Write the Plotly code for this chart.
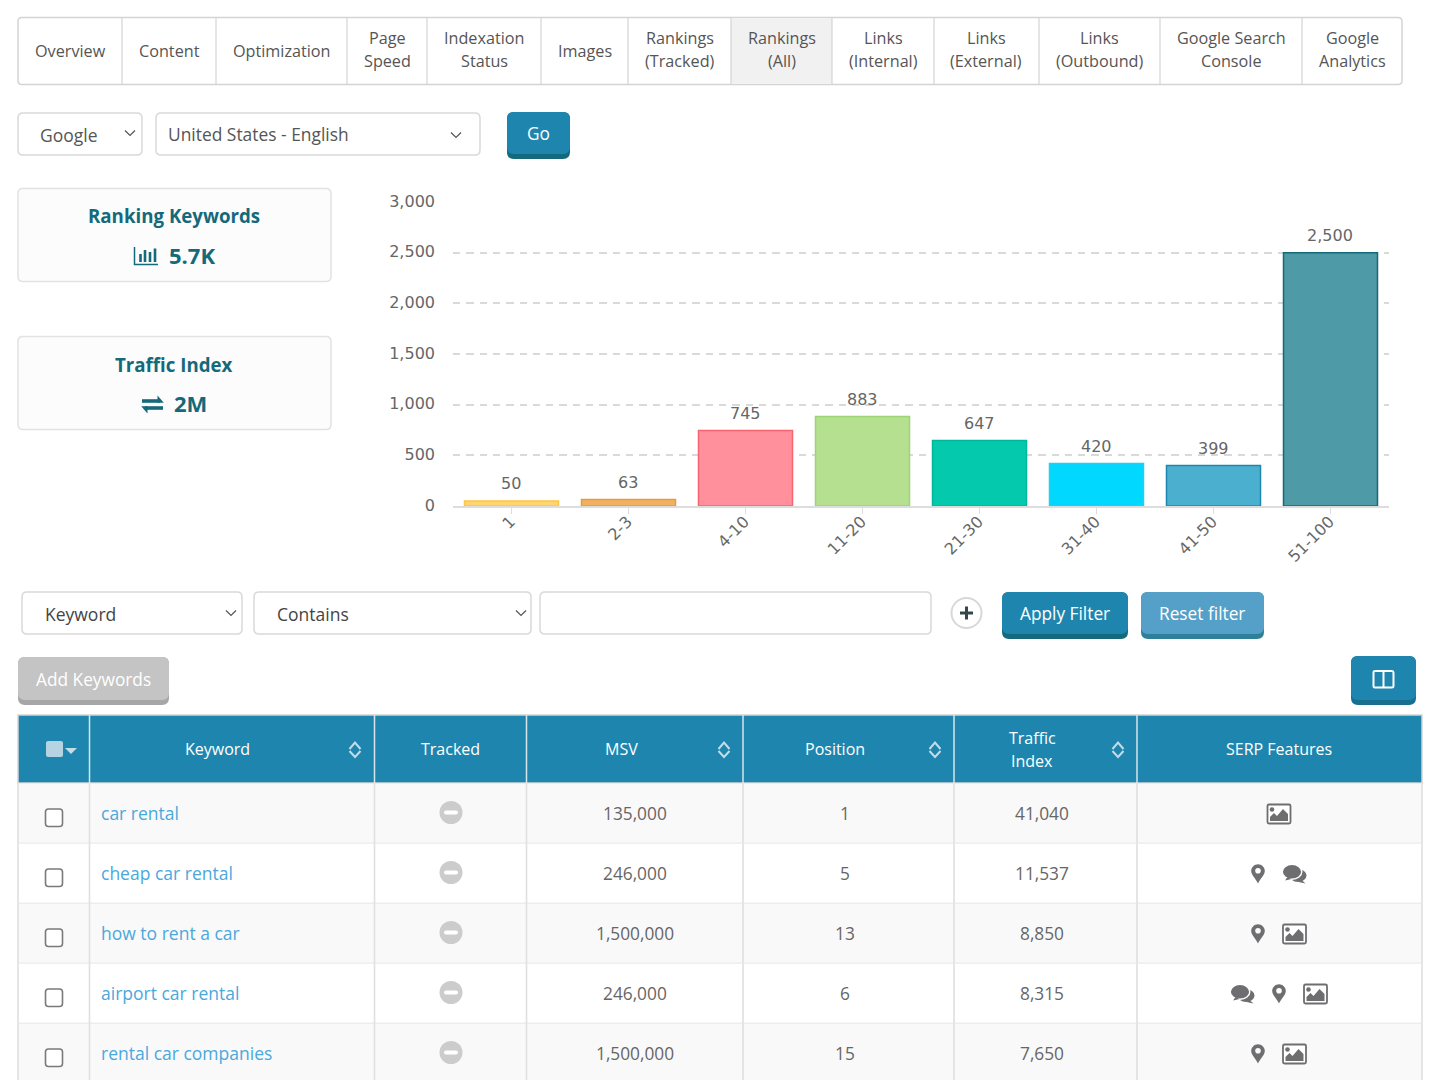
import plotly.graph_objects as go

# ---------- data ----------
rank_buckets = ["1", "2-3", "4-10", "11-20", "21-30", "31-40", "41-50", "51-100"]
rank_counts = [50, 63, 745, 883, 647, 420, 399, 2500]
bar_fills = ["#FFD572", "#F0B162", "#FF909C", "#B5E08F", "#04C9AD", "#00D8FF", "#4BB0D0", "#4E9AA6"]
bar_edges = ["#FFC53D", "#E99B3B", "#F8646F", "#9CD478", "#00B89C", "#2CCAF0", "#1E87B0", "#14697B"]
y_ticks = [0, 500, 1000, 1500, 2000, 2500, 3000]

tab_labels = ["Overview", "Content", "Optimization", "Page<br>Speed", "Indexation<br>Status", "Images",
              "Rankings<br>(Tracked)", "Rankings<br>(All)", "Links<br>(Internal)", "Links<br>(External)",
              "Links<br>(Outbound)", "Google Search<br>Console", "Google<br>Analytics"]
tab_edges = [18, 122, 216, 347, 427, 541, 628, 731, 832, 934, 1039, 1160, 1302, 1402]
active_tab = 7

keywords = ["car rental", "cheap car rental", "how to rent a car", "airport car rental", "rental car companies"]
msv = ["135,000", "246,000", "1,500,000", "246,000", "1,500,000"]
positions = ["1", "5", "13", "6", "15"]
traffic = ["41,040", "11,537", "8,850", "8,315", "7,650"]
serp = [["image"], ["pin", "comment"], ["pin", "image"], ["comment", "pin", "image"], ["pin", "image"]]

col_edges = [18, 89.5, 374.5, 526.5, 743, 954, 1137, 1422]
headers = [("Keyword", 218, 355), ("Tracked", 450, None), ("MSV", 621, 724), ("Position", 835, 935),
           ("Traffic<br>Index", 1032, 1118), ("SERP Features", 1279, None)]

W, H = 1440, 1080
UI = "Open Sans"
TEXT = "#555555"
BODY = "#666666"
BLUE = "#1E86AE"
TEAL = "#14697B"
BORDER = "#D9D9D9"
ICON = "#6E6E70"

shapes, notes = [], []
fx = lambda x: x / W
fy = lambda y: 1 - y / H


def pth(cmds):
    """cmds: list of (letter, x, y, ...) in pixels -> paper path"""
    out = []
    for c in cmds:
        if len(c) == 1:
            out.append(c[0])
            continue
        vals = c[1:]
        pts = []
        for i in range(0, len(vals), 2):
            pts.append(f"{fx(vals[i]):.6f},{fy(vals[i+1]):.6f}")
        out.append(c[0] + " " + " ".join(pts))
    return " ".join(out)


def path(cmds, fill=None, line=None, w=1):
    shapes.append(dict(type="path", xref="paper", yref="paper", path=pth(cmds),
                       fillcolor=fill or "rgba(0,0,0,0)",
                       line=dict(color=line or "rgba(0,0,0,0)", width=w if line else 0)))


def rrect(x0, y0, x1, y1, r=4, fill=None, line=None, w=1):
    path([("M", x0 + r, y0), ("L", x1 - r, y0), ("Q", x1, y0, x1, y0 + r), ("L", x1, y1 - r),
          ("Q", x1, y1, x1 - r, y1), ("L", x0 + r, y1), ("Q", x0, y1, x0, y1 - r), ("L", x0, y0 + r),
          ("Q", x0, y0, x0 + r, y0), ("Z",)], fill, line, w)


def rect(x0, y0, x1, y1, fill=None, line=None, w=1):
    path([("M", x0, y0), ("L", x1, y0), ("L", x1, y1), ("L", x0, y1), ("Z",)], fill, line, w)


def seg(x0, y0, x1, y1, color=BORDER, w=1):
    path([("M", x0, y0), ("L", x1, y1)], None, color, w)


def oval(cx, cy, rx, ry, fill=None, line=None, w=1):
    shapes.append(dict(type="circle", xref="paper", yref="paper", x0=fx(cx - rx), x1=fx(cx + rx),
                       y0=fy(cy + ry), y1=fy(cy - ry), fillcolor=fill or "rgba(0,0,0,0)",
                       line=dict(color=line or "rgba(0,0,0,0)", width=w if line else 0)))


def text(x, y, s, size=17, color=TEXT, anchor="center", weight=None, leading=23):
    lines = s.split("<br>")
    top = y - leading * (len(lines) - 1) / 2
    for n, part in enumerate(lines):
        label = f"<b>{part}</b>" if weight == "bold" else part
        notes.append(dict(x=fx(x), y=fy(top + n * leading), xref="paper", yref="paper", text=label,
                          showarrow=False, xanchor=anchor, yanchor="middle", align="center",
                          font=dict(family=UI, size=size, color=color), borderpad=0, borderwidth=0))


def chevron(cx, cy, color="#555555", w=1.2):
    path([("M", cx - 5, cy - 2.5), ("L", cx, cy + 2.5), ("L", cx + 5, cy - 2.5)], None, color, w)


def button(x0, y0, x1, y1, fill, edge, label, size=17.3):
    rrect(x0, y0, x1, y1, 7, edge)
    rrect(x0, y0, x1, y1 - 5, 7, fill)
    if label:
        text((x0 + x1) / 2 - 0.5, (y0 + y1 - 5) / 2 + 0.5, label, size, "#FFFFFF")


# ---------- tabs ----------
rrect(tab_edges[0], 17.5, tab_edges[-1], 84.5, 4, "#FFFFFF", "#D4D4D4", 1.5)
rect(tab_edges[active_tab], 18.5, tab_edges[active_tab + 1], 83.5, "#F1F1F1")
for e in tab_edges[1:-1]:
    seg(e, 18, e, 84, "#D4D4D4", 1.2)
for i, label in enumerate(tab_labels):
    yc = 49.5 if "<br>" in label else 50.5
    text((tab_edges[i] + tab_edges[i + 1]) / 2, yc, label, 16.2, TEXT)

# ---------- engine / locale selectors ----------
rrect(18, 113, 142, 155, 5, "#FFFFFF", BORDER, 1.5)
text(69, 135, "Google", 17.5, TEXT)
chevron(130, 133)
rrect(156, 113, 480, 155, 5, "#FFFFFF", BORDER, 1.5)
text(168, 133.5, "United States - English", 17.4, TEXT, "left")
chevron(456, 135)
button(507, 112, 570, 159, BLUE, TEAL, "Go")

# ---------- KPI cards ----------
for y0, title, value, vx in [(188.5, "Ranking Keywords", "5.7K", 192), (336.5, "Traffic Index", "2M", 190)]:
    rrect(18, y0, 331, y0 + 93, 5, "#FCFCFC", "#E2E2E2", 1.5)
    text(174, y0 + 27.5, title, 18.7, TEAL, weight="bold")
    text(vx, y0 + 66.5, value, 22, TEAL, weight="bold")
# bar-chart glyph
path([("M", 134.5, 247), ("L", 134.5, 264.5), ("L", 158, 264.5)], None, TEAL, 1.5)
for bx, top in [(140.5, 254), (145, 250), (150, 252), (155, 248.5)]:
    rect(bx - 1.3, top, bx + 1.3, 262, TEAL)
# exchange glyph
rect(142, 399.2, 160, 402.8, TEAL)
path([("M", 157.5, 395.5), ("L", 163.8, 402.8), ("L", 157.5, 402.8), ("Z",)], TEAL)
rect(145, 406.2, 163, 409.8, TEAL)
path([("M", 147.5, 413.5), ("L", 141.2, 406.2), ("L", 147.5, 406.2), ("Z",)], TEAL)

# ---------- filter row ----------
rrect(22, 592, 242, 634, 5, "#FFFFFF", BORDER, 1.5)
text(45, 614, "Keyword", 17.5, "#444444", "left")
chevron(231, 613)
rrect(254, 592, 531, 634, 5, "#FFFFFF", BORDER, 1.5)
text(277, 614, "Contains", 17.5, "#444444", "left")
chevron(521, 613)
rrect(540, 592, 931, 634, 5, "#FFFFFF", BORDER, 1.5)
oval(966.5, 613, 15, 15, "#FFFFFF", "#D8D8D8", 2)
rect(960, 611.5, 973, 614.5, "#34454C")
rect(965, 606.5, 968, 619.5, "#34454C")
button(1002, 592, 1128, 639, BLUE, TEAL, "Apply Filter")
button(1141, 592, 1264, 639, "#55A0C8", "#2E8098", "Reset filter")
button(18, 657, 169, 705, "#C4C4C4", "#A6A6A6", "Add Keywords")
button(1351, 656, 1416, 705, BLUE, "#17708F", None)
rrect(1373.5, 671, 1393.5, 687.5, 1.5, None, "#FFFFFF", 2)
seg(1383.5, 671, 1383.5, 687.5, "#FFFFFF", 2)

# ---------- table ----------
rect(18, 715, 1422, 783, BLUE, "#D4D4D4", 1.5)
for e in col_edges[1:-1]:
    seg(e, 715, e, 783, "#D8E4EA", 1.5)
rrect(46, 741, 63, 757, 2, "#B5D3E0")
path([("M", 65, 748), ("L", 77, 748), ("L", 71, 754), ("Z",)], "#C4DDE8")
for label, cx, sx in headers:
    text(cx, 749, label, 16, "#FFFFFF")
    if sx:
        path([("M", sx - 5.5, 749), ("L", sx, 742.5), ("L", sx + 5.5, 749)], None, "#C3DCE7", 2)
        path([("M", sx - 5.5, 751), ("L", sx, 757), ("L", sx + 5.5, 751)], None, "#C3DCE7", 2)


def image_icon(cx, cy, bg):
    rrect(cx - 11.5, cy - 9.5, cx + 11.5, cy + 9.5, 1.5, "#FFFFFF", ICON, 1.8)
    oval(cx - 7, cy - 4.5, 2.3, 2.3, ICON)
    path([("M", cx - 9, cy + 7), ("L", cx - 9, cy + 3), ("L", cx - 5, cy - 1), ("L", cx - 2, cy + 2),
          ("L", cx + 4, cy - 5), ("L", cx + 9, cy), ("L", cx + 9, cy + 7), ("Z",)], ICON)


def pin_icon(cx, cy, bg):
    path([("M", cx, cy + 9.5), ("C", cx - 2, cy + 5, cx - 6.8, cy + 1, cx - 6.8, cy - 3),
          ("C", cx - 6.8, cy - 7, cx - 3.5, cy - 9.8, cx, cy - 9.8),
          ("C", cx + 3.5, cy - 9.8, cx + 6.8, cy - 7, cx + 6.8, cy - 3),
          ("C", cx + 6.8, cy + 1, cx + 2, cy + 5, cx, cy + 9.5), ("Z",)], ICON)
    oval(cx, cy - 3.2, 2.8, 2.8, bg)


def comment_icon(cx, cy, bg):
    oval(cx + 3.5, cy + 1.5, 8.5, 6.5, ICON)
    path([("M", cx + 7, cy + 6), ("L", cx + 11, cy + 9.5), ("L", cx + 4, cy + 8), ("Z",)], ICON)
    oval(cx - 2.5, cy - 2.2, 9.8, 7.4, ICON, bg, 1.4)
    path([("M", cx - 7, cy + 3), ("L", cx - 9.5, cy + 6.5), ("L", cx - 3, cy + 5), ("Z",)], ICON)


icon_draw = {"image": (image_icon, 24), "pin": (pin_icon, 13), "comment": (comment_icon, 24)}
row_h = 60
for i, kw in enumerate(keywords):
    y0 = 783.5 + i * row_h
    y1 = y0 + row_h
    yc = y0 + 30
    bg = "#F9F9F9" if i % 2 == 0 else "#FFFFFF"
    rect(18, y0, 1422, y1, bg)
    seg(18, y1, 1422, y1, "#DFDFDF", 1.6)
    for e in col_edges:
        seg(e, y0, e, y1, "#DFDFDF", 1.6)
    rrect(45.5, yc - 4.5, 62.5, yc + 13, 3, "#FFFFFF", "#7A7A7A", 1.6)
    text(101, yc - 1, kw, 17.5, "#4AA8DC", "left")
    oval(451, yc - 1, 11.5, 11.5, "#CCCCCC")
    rrect(444, yc - 3, 458, yc + 1, 2, "#FFFFFF")
    text(635, yc, msv[i], 17.3, BODY)
    text(845, yc, positions[i], 17.3, BODY)
    text(1042, yc, traffic[i], 17.3, BODY)
    gap = 18
    total = sum(icon_draw[k][1] for k in serp[i]) + gap * (len(serp[i]) - 1)
    x = 1279 - total / 2
    for k in serp[i]:
        draw, wid = icon_draw[k]
        draw(x + wid / 2, yc + 0.5, bg)
        x += wid + gap

# bar value labels follow the bars through the data axes (category index on x)
for idx, val in enumerate(rank_counts):
    notes.append(dict(x=idx, y=val, xref="x", yref="y", text=f"{val:,}", showarrow=False,
                      xanchor="center", yanchor="middle", yshift=17, xshift=-0.5,
                      font=dict(family="DejaVu Sans", size=16, color="#666666")))

# ---------- chart ----------
fig = go.Figure(go.Bar(
    x=rank_buckets, y=rank_counts,
    marker=dict(color=bar_fills, line=dict(color=bar_edges, width=1.5)),
    cliponaxis=False, hoverinfo="skip", width=94 / 117,
))
fig.update_layout(
    width=W, height=H, autosize=False, margin=dict(l=0, r=0, t=0, b=0, pad=0, autoexpand=False),
    paper_bgcolor="#FFFFFF", plot_bgcolor="rgba(0,0,0,0)", showlegend=False,
    shapes=shapes, annotations=notes,
    xaxis=dict(domain=[453 / W, 1389 / W], type="category", categoryorder="array", categoryarray=rank_buckets,
               tickangle=-45, ticks="outside", ticklen=6, tickwidth=1, tickcolor="#DDDDDD",
               showline=True, linecolor="#DDDDDD", linewidth=2, showgrid=False, zeroline=False,
               ticklabelstandoff=-8, ticklabelshift=-1,
               tickfont=dict(family="DejaVu Sans", size=16, color="#666666"), fixedrange=True),
    yaxis=dict(domain=[1 - 506 / H, 1 - 202 / H], range=[0, 3000], tickmode="array", tickvals=y_ticks,
               ticktext=[f"{v:,}" for v in y_ticks], showgrid=True, gridcolor="#D9D9D9", griddash="7.3px,6px",
               gridwidth=1.7, zeroline=False, showline=False, ticks="", ticklabelstandoff=17, ticklabelshift=-1,
               tickfont=dict(family="DejaVu Sans", size=16, color="#666666"), fixedrange=True),
)
fig.write_html("out.html", config={"displayModeBar": False},
               post_script="document.body.style.margin='0';document.documentElement.style.overflow='hidden';")
